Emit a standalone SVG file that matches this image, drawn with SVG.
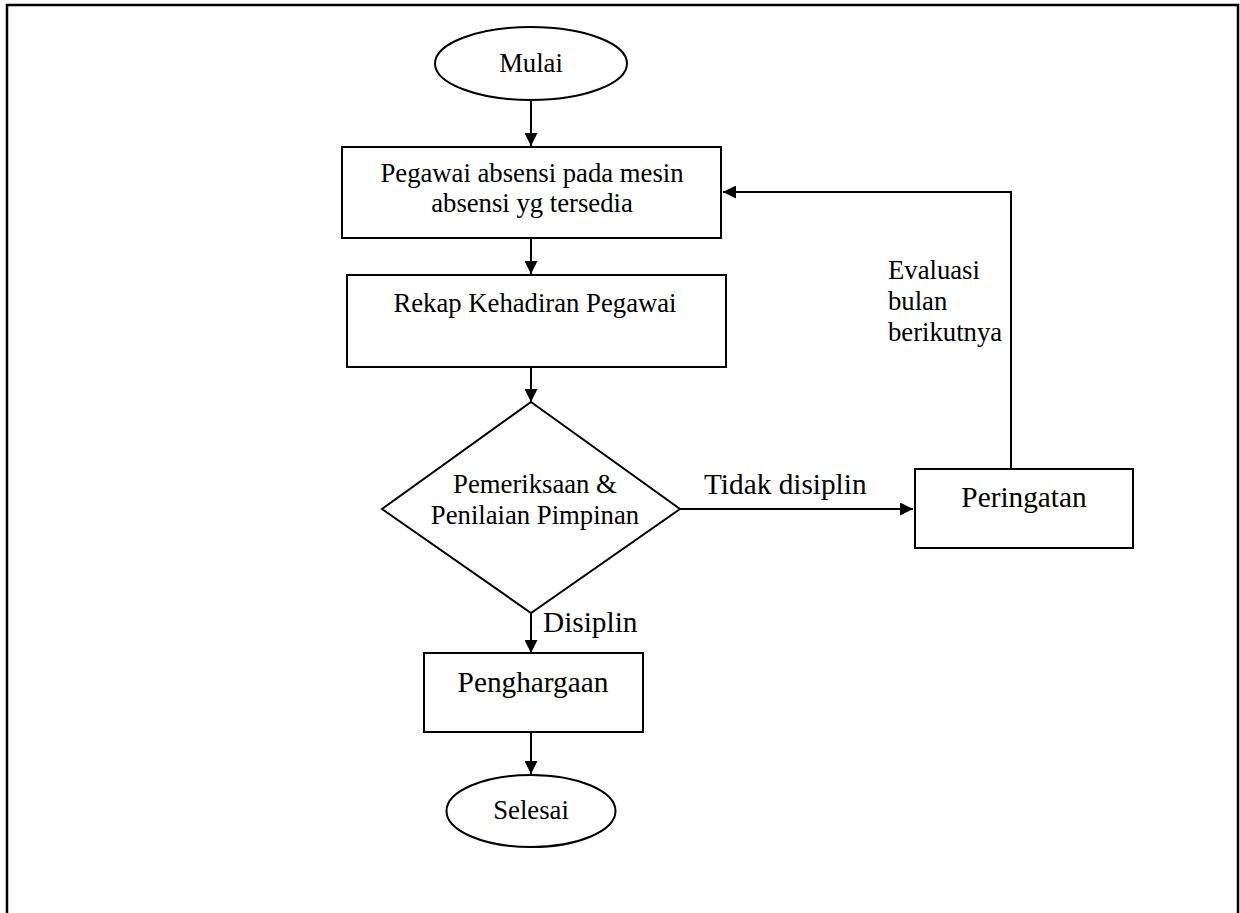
<svg xmlns="http://www.w3.org/2000/svg" width="1240" height="913" viewBox="0 0 1240 913">
<style>
.shape{fill:#fff;stroke:#000;stroke-width:2}
.line{fill:none;stroke:#000;stroke-width:2}
text{font-family:"Liberation Serif","Times New Roman",serif;fill:#000}
.t26{font-size:26.7px}
.t29{font-size:29.3px}
</style>
<defs>
<marker id="arr" viewBox="0 0 12 12" refX="12" refY="6" markerWidth="13" markerHeight="13" markerUnits="userSpaceOnUse" orient="auto">
<path d="M0,0 L12,6 L0,12 Z" fill="#000"/>
</marker>
</defs>
<rect x="7" y="5" width="1231" height="920" fill="#fff" stroke="#000" stroke-width="2.5"/>
<g id="connectors">
<line class="line" x1="531" y1="100" x2="531" y2="146" marker-end="url(#arr)"/>
<line class="line" x1="531" y1="238" x2="531" y2="274" marker-end="url(#arr)"/>
<line class="line" x1="531" y1="367" x2="531" y2="402" marker-end="url(#arr)"/>
<line class="line" x1="680" y1="509" x2="913" y2="509" marker-end="url(#arr)"/>
<text class="t29" x="704" y="494">Tidak disiplin</text>
<line class="line" x1="531" y1="613" x2="531" y2="653" marker-end="url(#arr)"/>
<text class="t29" x="543" y="632">Disiplin</text>
<line class="line" x1="531" y1="732" x2="531" y2="774" marker-end="url(#arr)"/>
<polyline class="line" points="1011,469 1011,192 723,192" marker-end="url(#arr)"/>
<text class="t26" x="888" y="279">Evaluasi</text>
<text class="t26" x="888" y="310">bulan</text>
<text class="t26" x="888" y="341">berikutnya</text>
</g>
<g id="mulai">
<ellipse class="shape" cx="531" cy="63.5" rx="96" ry="36.5"/>
<text class="t26" x="531" y="72" text-anchor="middle">Mulai</text>
</g>
<g id="absensi">
<rect class="shape" x="342" y="147" width="379" height="91"/>
<text class="t26" x="532" y="182" text-anchor="middle">Pegawai absensi pada mesin</text>
<text class="t26" x="532" y="212" text-anchor="middle">absensi yg tersedia</text>
</g>
<g id="rekap">
<rect class="shape" x="347" y="275" width="379" height="92"/>
<text class="t26" x="535" y="312" text-anchor="middle">Rekap Kehadiran Pegawai</text>
</g>
<g id="pemeriksaan">
<polygon class="shape" points="531,402 680,509 531,613 382,509"/>
<text class="t26" x="535" y="493" text-anchor="middle">Pemeriksaan &amp;</text>
<text class="t26" x="535" y="524" text-anchor="middle">Penilaian Pimpinan</text>
</g>
<g id="peringatan">
<rect class="shape" x="915" y="469" width="218" height="79"/>
<text class="t29" x="1024" y="507" text-anchor="middle">Peringatan</text>
</g>
<g id="penghargaan">
<rect class="shape" x="424" y="653" width="219" height="79"/>
<text class="t29" x="533" y="692" text-anchor="middle">Penghargaan</text>
</g>
<g id="selesai">
<ellipse class="shape" cx="531" cy="811" rx="84.5" ry="36"/>
<text class="t26" x="531" y="819" text-anchor="middle">Selesai</text>
</g>
</svg>
